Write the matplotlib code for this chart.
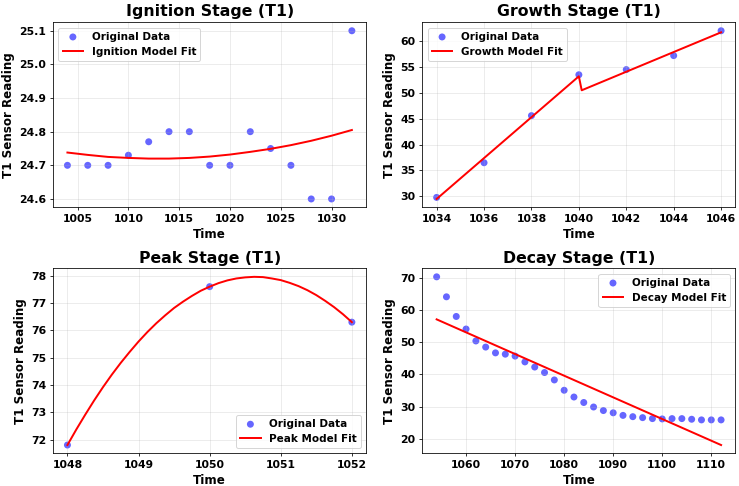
import matplotlib
matplotlib.use("Agg")
import matplotlib.pyplot as plt
from matplotlib.ticker import MultipleLocator

plt.rcParams['font.family'] = ['DejaVu Sans']
plt.rcParams['font.weight'] = 'bold'
plt.rcParams['axes.labelweight'] = 'bold'
plt.rcParams['axes.titleweight'] = 'bold'

# Ignition stage
ign_t = [1004, 1006, 1008, 1010, 1012, 1014, 1016, 1018, 1020, 1022, 1024, 1026, 1028, 1030, 1032]
ign_v = [24.7, 24.7, 24.7, 24.73, 24.77, 24.8, 24.8, 24.7, 24.7, 24.8, 24.75, 24.7, 24.6, 24.6, 25.1]
ign_fit_t = [1004, 1006, 1008, 1010, 1012, 1014, 1016, 1018, 1020, 1022, 1024, 1026, 1028, 1030, 1032]
ign_fit_v = [24.738, 24.731, 24.725, 24.722, 24.720, 24.720, 24.722, 24.726, 24.732,
             24.740, 24.749, 24.760, 24.773, 24.788, 24.805]

# Growth stage
gro_t = [1034, 1036, 1038, 1040, 1042, 1044, 1046]
gro_v = [29.8, 36.5, 45.6, 53.5, 54.5, 57.2, 62.0]
gro_fit_t = [1034, 1040, 1040.12, 1046]
gro_fit_v = [29.5, 53.2, 50.5, 61.7]

# Peak stage
peak_t = [1048, 1050, 1052]
peak_v = [71.8, 77.6, 76.3]
peak_fit_t = [1048, 1048.125, 1048.25, 1048.375, 1048.5, 1048.625, 1048.75, 1048.875,
              1049, 1049.125, 1049.25, 1049.375, 1049.5, 1049.625, 1049.75, 1049.875,
              1050, 1050.125, 1050.25, 1050.375, 1050.5, 1050.625, 1050.75, 1050.875,
              1051, 1051.125, 1051.25, 1051.375, 1051.5, 1051.625, 1051.75, 1051.875, 1052]
peak_fit_v = [71.8, 72.37, 72.91, 73.43, 73.92, 74.38, 74.81, 75.21,
              75.59, 75.94, 76.26, 76.55, 76.82, 77.05, 77.26, 77.45,
              77.6, 77.73, 77.83, 77.90, 77.94, 77.96, 77.95, 77.90,
              77.84, 77.74, 77.62, 77.47, 77.29, 77.08, 76.85, 76.59, 76.3]

# Decay stage
dec_t = [1054, 1056, 1058, 1060, 1062, 1064, 1066, 1068, 1070, 1072, 1074, 1076, 1078, 1080, 1082,
         1084, 1086, 1088, 1090, 1092, 1094, 1096, 1098, 1100, 1102, 1104, 1106, 1108, 1110, 1112]
dec_v = [70.3, 64.1, 58.0, 54.1, 50.4, 48.5, 46.7, 46.3, 45.7, 43.9, 42.3, 40.6, 38.3, 35.1, 33.0,
         31.3, 29.9, 28.8, 28.1, 27.3, 26.9, 26.6, 26.3, 26.2, 26.3, 26.3, 26.1, 25.9, 25.9, 25.9]
dec_fit_t = [1054, 1112]
dec_fit_v = [57.1, 18.1]

stages = [
    ("Ignition", ign_t, ign_v, ign_fit_t, ign_fit_v, "upper left"),
    ("Growth", gro_t, gro_v, gro_fit_t, gro_fit_v, "upper left"),
    ("Peak", peak_t, peak_v, peak_fit_t, peak_fit_v, "lower right"),
    ("Decay", dec_t, dec_v, dec_fit_t, dec_fit_v, "upper right"),
]

fig, axes = plt.subplots(2, 2, figsize=(739 / 71, 486 / 71), dpi=71)
for ax, (name, t, v, ft, fv, loc) in zip(axes.flat, stages):
    ax.scatter(t, v, color='blue', alpha=0.6, s=50, edgecolors='none', label='Original Data')
    ax.plot(ft, fv, color='red', linewidth=2, label=f'{name} Model Fit')
    ax.set_title(f'{name} Stage (T1)', fontsize=16)
    ax.set_xlabel('Time', fontsize=12)
    ax.set_ylabel('T1 Sensor Reading', fontsize=12)
    ax.tick_params(labelsize=11)
    ax.grid(True, alpha=0.3)
    ax.legend(loc=loc, fontsize=10.5)

axes[1, 0].xaxis.set_major_locator(MultipleLocator(1))

fig.subplots_adjust(left=0.072, right=0.995, top=0.954, bottom=0.067, wspace=0.18, hspace=0.33)
fig.savefig('out.png', dpi=71)
